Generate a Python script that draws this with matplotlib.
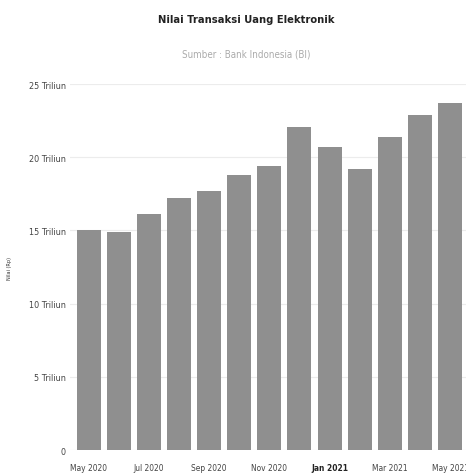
import matplotlib
matplotlib.use("Agg")
import matplotlib.pyplot as plt

# data (Triliun Rupiah)
bulan = ["May 2020", "Jun 2020", "Jul 2020", "Aug 2020", "Sep 2020", "Oct 2020",
         "Nov 2020", "Dec 2020", "Jan 2021", "Feb 2021", "Mar 2021", "Apr 2021", "May 2021"]
nilai = [15.0, 14.9, 16.1, 17.2, 17.7, 18.8, 19.4, 22.1, 20.7, 19.2, 21.4, 22.9, 23.7]
y_ticks = [0, 5, 10, 15, 20, 25]
y_labels = ["0", "5 Triliun", "10 Triliun", "15 Triliun", "20 Triliun", "25 Triliun"]

plt.rcParams['font.family'] = ['DejaVu Sans']
plt.rcParams['font.stretch'] = 'condensed'

fig = plt.figure(figsize=(4.66, 4.77), dpi=100)
ax = fig.add_axes([0.150, 0.0545, 0.85, 0.767])

x = range(len(nilai))
ax.bar(x, nilai, width=0.8, color="#8f8f8f", zorder=2)

ax.set_xlim(-0.62, 12.53)
ax.set_ylim(0, 25)
ax.set_yticks(y_ticks)
ax.set_yticklabels(y_labels, fontsize=6.5, color="#444444")
ax.set_xticks(list(x)[::2])
ax.set_xticklabels(bulan[::2], fontsize=6, color="#444444")
for lbl in ax.get_xticklabels():
    if lbl.get_text() == "Jan 2021":
        lbl.set_fontweight("bold")
        lbl.set_color("#222222")

ax.tick_params(axis="y", length=0, pad=3)
ax.tick_params(axis="x", length=0, pad=9)
ax.grid(axis="y", color="#ececec", linewidth=0.8, zorder=0)
for s in ax.spines.values():
    s.set_visible(False)

ax.set_ylabel("Nilai (Rp)", fontsize=4, color="#333333", labelpad=12)

fig.text(0.528, 0.958, "Nilai Transaksi Uang Elektronik", ha="center", va="center",
         fontsize=8, fontweight="bold", color="#222222")
fig.text(0.528, 0.885, "Sumber : Bank Indonesia (BI)", ha="center", va="center",
         fontsize=7, color="#aaaaaa")

fig.savefig("out.png", dpi=100)
